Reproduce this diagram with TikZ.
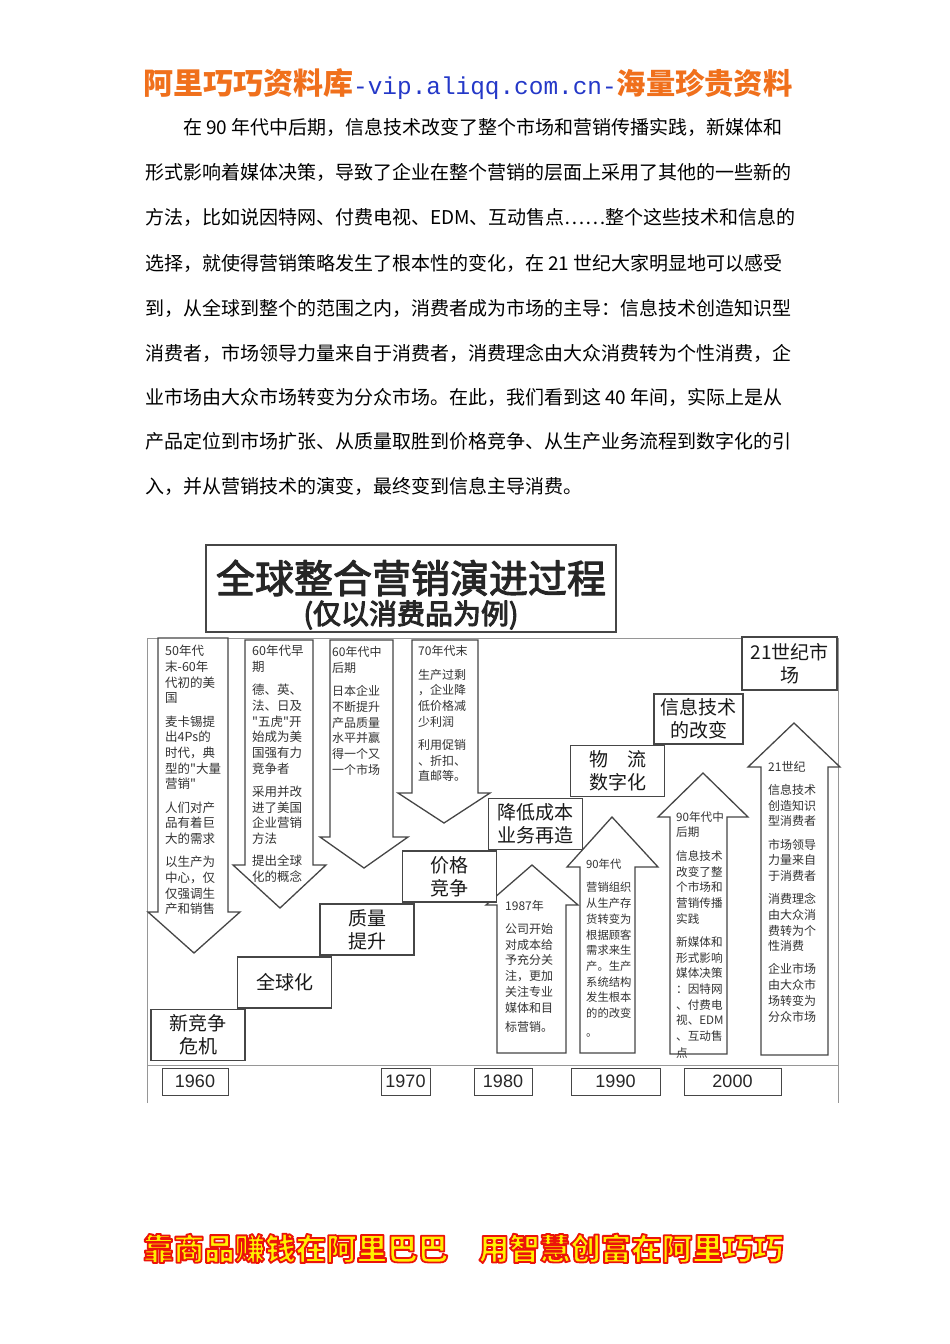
\documentclass[tikz,border=0pt]{standalone}
\usepackage{fontspec}
\setmainfont{Liberation Sans}
\newfontfamily\cjk{Noto Sans CJK SC}
\newfontfamily\monof{Liberation Mono}
\definecolor{hdrorange}{RGB}{240,112,28}
\definecolor{hdrblue}{RGB}{36,56,200}
\definecolor{ftred}{RGB}{235,20,10}
\definecolor{ftyellow}{RGB}{255,240,0}
\definecolor{linec}{RGB}{70,70,70}
\definecolor{framec}{RGB}{150,150,150}
\newcommand\redoutline{\special{pdf:literal direct 2 Tr 1.8 w 1 j 0.92 0.08 0.04 RG}}
\newcommand\thicken{\special{pdf:literal direct 2 Tr 1.0 w 1 j}}
\tikzset{
  para/.style={anchor=base west, inner sep=0pt, font=\cjk\fontsize{19}{19}\selectfont, text=black},
  arr/.style={draw=linec, line width=1.3pt, fill=white, line join=miter},
  lbl/.style={draw=linec, line width=1.3pt, fill=white, inner sep=0pt, align=center,
              font=\cjk\fontsize{19}{23}\selectfont, text=black!90, minimum width=94, minimum height=51},
  small/.style={anchor=north west, inner sep=0pt, align=left,
              font=\cjk\fontsize{12}{15.7}\selectfont, text=black!80},
  yr/.style={draw=linec, line width=1pt, inner sep=0pt, minimum height=27,
              font=\fontsize{18}{18}\selectfont, text=black!85},
  framel/.style={draw=framec, line width=1pt},
  foot/.style={anchor=base west, inner sep=0pt, font=\cjk\bfseries\fontsize{30.5}{30.5}\selectfont}
}
\begin{document}
\begin{tikzpicture}[x=1pt,y=-1pt]
\useasboundingbox[fill=white] (0,0) rectangle (950,1344);

% header
\node[anchor=base west, inner sep=0pt] (hdr) at (143,94)
 {{\cjk\bfseries\fontsize{30}{30}\selectfont\color{hdrorange}阿里巧巧资料库}{\monof\fontsize{24.4}{24.4}\selectfont\color{hdrblue}-vip.aliqq.com.cn-}{\cjk\bfseries\fontsize{29.3}{29.3}\selectfont\color{hdrorange}海量珍贵资料}};

% paragraph
\node[para] (p1) at (183,134) {在 90 年代中后期，信息技术改变了整个市场和营销传播实践，新媒体和};
\node[para] (p2) at (145,179) {形式影响着媒体决策，导致了企业在整个营销的层面上采用了其他的一些新的};
\node[para] (p3) at (145,224) {方法，比如说因特网、付费电视、EDM、互动售点……整个这些技术和信息的};
\node[para] (p4) at (145,270) {选择，就使得营销策略发生了根本性的变化，在 21 世纪大家明显地可以感受};
\node[para] (p5) at (145,315) {到，从全球到整个的范围之内，消费者成为市场的主导：信息技术创造知识型};
\node[para] (p6) at (145,360) {消费者，市场领导力量来自于消费者，消费理念由大众消费转为个性消费，企};
\node[para] (p7) at (145,404) {业市场由大众市场转变为分众市场。在此，我们看到这 40 年间，实际上是从};
\node[para] (p8) at (145,448) {产品定位到市场扩张、从质量取胜到价格竞争、从生产业务流程到数字化的引};
\node[para] (p9) at (145,493) {入，并从营销技术的演变，最终变到信息主导消费。};

% title box
\node[draw=linec, line width=1.8pt, minimum width=410, minimum height=87, inner sep=0pt] (tbox) at (411,588.5) {};
\node[inner sep=0pt, font=\cjk\fontsize{39}{39}\selectfont, text=black!85] (t1) at (411,578) {\thicken 全球整合营销演进过程};
\node[inner sep=0pt, font=\cjk\fontsize{28}{28}\selectfont, text=black!85] (t2) at (411,615) {\thicken (仅以消费品为例)};

% frame
\draw[framel] (147,1103) -- (147,638) -- (838,638) -- (838,1103);
\draw[framel] (147,1065) -- (838,1065);

% down arrows
\draw[arr] (158,638) -- (158,912) -- (148,912) -- (194,953) -- (240,912) -- (228,912) -- (228,638) -- cycle;
\draw[arr] (245,640) -- (245,865) -- (233,865) -- (280,908) -- (326,865) -- (313,865) -- (313,640) -- cycle;
\draw[arr] (330,640) -- (330,837) -- (320,837) -- (364,868) -- (408,837) -- (393,837) -- (393,640) -- cycle;
\draw[arr] (412,640) -- (412,793) -- (398,793) -- (444,823) -- (490,793) -- (478,793) -- (478,640) -- cycle;

% up arrows
\draw[arr] (497,1053) -- (497,905) -- (486,905) -- (532,865) -- (578,905) -- (566,905) -- (566,1053) -- cycle;
\draw[arr] (580,1053) -- (580,867) -- (567,867) -- (612,817) -- (658,867) -- (635,867) -- (635,1053) -- cycle;
\draw[arr] (670,1054) -- (670,817) -- (658,817) -- (703,773) -- (748,817) -- (727,817) -- (727,1054) -- cycle;
\draw[arr] (761,1055) -- (761,767) -- (748,767) -- (794,723) -- (840,767) -- (828,767) -- (828,1055) -- cycle;

% arrow texts
\node[small, font=\cjk\fontsize{12.5}{15.7}\selectfont] (s1) at (165,645) {50年代\\末-60年\\代初的美\\国\\[7.5pt]麦卡锡提\\出4Ps的\\时代，典\\型的"大量\\营销"\\[7.5pt]人们对产\\品有着巨\\大的需求\\[7.5pt]以生产为\\中心，仅\\仅强调生\\产和销售};
\node[small, font=\cjk\fontsize{12.5}{15.7}\selectfont] (s2) at (252,645) {60年代早\\期\\[7.5pt]德、英、\\法、日及\\"五虎"开\\始成为美\\国强有力\\竞争者\\[7.5pt]采用并改\\进了美国\\企业营销\\方法\\[6.5pt]提出全球\\化的概念};
\node[small] (s3) at (332,646) {60年代中\\后期\\[8pt]日本企业\\不断提升\\产品质量\\水平并赢\\得一个又\\一个市场};
\node[small] (s4) at (418,645) {70年代末\\[8pt]生产过剩\\，企业降\\低价格减\\少利润\\[7.5pt]利用促销\\、折扣、\\直邮等。};
\node[small] (sa) at (505,900) {1987年\\[7.5pt]公司开始\\对成本给\\予充分关\\注，更加\\关注专业\\媒体和目\\[3.5pt]标营销。};
\node[small, font=\cjk\fontsize{11.3}{15.7}\selectfont] (sb) at (586,859) {90年代\\[7.5pt]营销组织\\从生产存\\货转变为\\根据顾客\\需求来生\\产。生产\\系统结构\\发生根本\\的的改变\\[3.5pt]。};
\node[small, font=\cjk\fontsize{11.6}{15.7}\selectfont] (sc) at (676,811) {90年代中\\后期\\[8pt]信息技术\\改变了整\\个市场和\\营销传播\\实践\\[7.5pt]新媒体和\\形式影响\\媒体决策\\：因特网\\、付费电\\视、EDM\\、互动售\\[1.5pt]点};
\node[small] (sd) at (768,761) {21世纪\\[7.5pt]信息技术\\创造知识\\型消费者\\[7.5pt]市场领导\\力量来自\\于消费者\\[7.5pt]消费理念\\由大众消\\费转为个\\性消费\\[7.5pt]企业市场\\由大众市\\场转变为\\分众市场};

% stage boxes
\node[lbl] (b1) at (198,1035) {新竞争\\危机};
\node[lbl] (b2) at (284.5,982.5) {全球化};
\node[lbl] (b3) at (367,929.5) {质量\\提升};
\node[lbl] (b4) at (449.5,876.5) {价格\\竞争};
\node[lbl] (b5) at (535.5,824) {降低成本\\业务再造};
\node[lbl] (b6) at (617.5,771) {物　流\\数字化};
\node[lbl, minimum width=89, minimum height=50] (b7) at (698.5,719) {信息技术\\的改变};
\node[lbl, minimum width=95, minimum height=53] (b8) at (789.5,663.5) {21世纪市\\场};

% years
\node[yr, minimum width=66] (y1) at (195,1081.5) {1960};
\node[yr, minimum width=49] (y2) at (405.5,1081.5) {1970};
\node[yr, minimum width=58] (y3) at (503,1081.5) {1980};
\node[yr, minimum width=89] (y4) at (615.5,1081.5) {1990};
\node[yr, minimum width=97] (y5) at (732.5,1081.5) {2000};

% footer: yellow fill, red outline
\node[foot, text=ftyellow] (ft) at (143,1260) {\redoutline 靠商品赚钱在阿里巴巴　用智慧创富在阿里巧巧};
\end{tikzpicture}
\end{document}
